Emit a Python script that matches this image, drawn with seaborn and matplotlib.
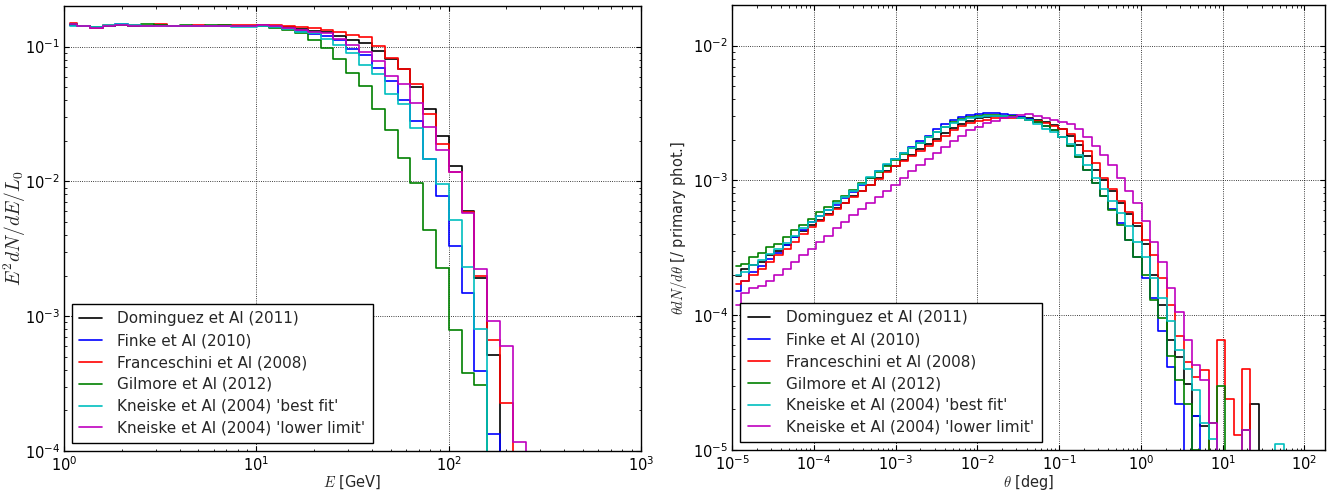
import numpy as np
import pandas as pd
import matplotlib
matplotlib.use("Agg")
import matplotlib.pyplot as plt
import seaborn as sns

# ---- data ----
models = ["Dominguez et Al (2011)", "Finke et Al (2010)", "Franceschini et Al (2008)",
          "Gilmore et Al (2012)", "Kneiske et Al (2004) 'best fit'", "Kneiske et Al (2004) 'lower limit'"]
colors = ["k", "b", "r", "g", "c", "m"]

# energy spectrum, 15 bins per decade from 1 GeV to 1 TeV
e_edges = np.logspace(0, 3, 46)
dom_e = [0.145, 0.142, 0.139, 0.143, 0.145, 0.143, 0.142, 0.145, 0.142, 0.143, 0.143, 0.142, 0.143, 0.143, 0.143,
         0.144, 0.142, 0.140, 0.136, 0.131, 0.1285, 0.120, 0.111, 0.107, 0.0929, 0.0814, 0.0679, 0.0504, 0.0346,
         0.0219, 0.0130, 0.00608, 0.00192, 5.2e-4, 0, 0, 0, 0, 0, 0, 0, 0, 0, 0, 0]
fin_e = [0.145, 0.141, 0.138, 0.143, 0.148, 0.144, 0.143, 0.144, 0.141, 0.142, 0.142, 0.143, 0.142, 0.141, 0.141,
         0.143, 0.140, 0.136, 0.131, 0.125, 0.120, 0.1114, 0.0966, 0.0863, 0.0698, 0.0556, 0.0402, 0.0280, 0.01456,
         0.00786, 0.0033, 0.00149, 3.95e-4, 1.34e-4, 0, 0, 0, 0, 0, 0, 0, 0, 0, 0, 0]
fra_e = [0.149, 0.142, 0.138, 0.144, 0.145, 0.144, 0.142, 0.146, 0.142, 0.143, 0.144, 0.143, 0.144, 0.145, 0.145,
         0.145, 0.144, 0.1424, 0.140, 0.1384, 0.133, 0.1285, 0.1213, 0.118, 0.1011, 0.0828, 0.0687, 0.0531, 0.0314,
         0.0191, 0.0118, 0.00594, 0.00198, 6.7e-4, 2.26e-4, 0, 0, 0, 0, 0, 0, 0, 0, 0, 0]
gil_e = [0.146, 0.143, 0.139, 0.142, 0.145, 0.143, 0.146, 0.144, 0.142, 0.144, 0.143, 0.144, 0.144, 0.142, 0.141,
         0.141, 0.137, 0.132, 0.1256, 0.1121, 0.0972, 0.0805, 0.0641, 0.0511, 0.0342, 0.0239, 0.0150, 0.00966,
         0.00439, 0.00228, 7.85e-4, 3.78e-4, 3.10e-4, 0, 0, 0, 0, 0, 0, 0, 0, 0, 0, 0, 0]
kbf_e = [0.143, 0.141, 0.139, 0.144, 0.146, 0.145, 0.143, 0.141, 0.143, 0.141, 0.143, 0.142, 0.142, 0.140, 0.139,
         0.142, 0.139, 0.134, 0.129, 0.1256, 0.1134, 0.1023, 0.0892, 0.0731, 0.0623, 0.0443, 0.0373, 0.0247,
         0.01456, 0.00949, 0.00515, 0.00232, 8.1e-4, 0, 0, 0, 0, 0, 0, 0, 0, 0, 0, 0, 0]
kll_e = [0.148, 0.141, 0.137, 0.142, 0.144, 0.142, 0.142, 0.143, 0.141, 0.142, 0.142, 0.143, 0.143, 0.143, 0.142,
         0.144, 0.141, 0.138, 0.133, 0.128, 0.1256, 0.1147, 0.1023, 0.0913, 0.0782, 0.0605, 0.0525, 0.0379, 0.0255,
         0.0170, 0.0118, 0.00583, 0.00224, 9.2e-4, 6.0e-4, 1.17e-4, 0, 0, 0, 0, 0, 0, 0, 0, 0]

# angular distribution, 71 log bins from 1e-5 to 180 deg
t_edges = np.logspace(-5, np.log10(180), 72)
dom_t = [1.95e-4, 2.2e-4, 2.35e-4, 2.5e-4, 2.8e-4, 3.0e-4, 3.3e-4, 3.8e-4, 4.2e-4, 4.7e-4,
         5.1e-4, 5.6e-4, 6.2e-4, 6.8e-4, 7.6e-4, 8.3e-4, 9.3e-4, 1.05e-3, 1.17e-3, 1.29e-3,
         1.41e-3, 1.55e-3, 1.7e-3, 1.86e-3, 2.04e-3, 2.24e-3, 2.45e-3, 2.63e-3, 2.75e-3, 2.88e-3,
         2.95e-3, 3.0e-3, 3.0e-3, 3.0e-3, 2.95e-3, 2.88e-3, 2.82e-3, 2.7e-3, 2.57e-3, 2.4e-3,
         2.14e-3, 1.82e-3, 1.51e-3, 1.2e-3, 1.0e-3, 8.3e-4, 6.8e-4, 5.6e-4, 4.6e-4, 3.4e-4,
         2.0e-4, 1.2e-4, 6.5e-5, 4.9e-5, 3.1e-5, 1.8e-5, 1.5e-5, 0, 0, 0,
         0, 0, 2.2e-5, 0, 0, 0, 0, 0, 0, 0, 0]
fin_t = [1.5e-4, 1.8e-4, 2.1e-4, 2.3e-4, 2.6e-4, 2.9e-4, 3.3e-4, 3.8e-4, 4.3e-4, 4.9e-4,
         5.4e-4, 6.0e-4, 6.6e-4, 7.4e-4, 8.2e-4, 9.3e-4, 1.05e-3, 1.17e-3, 1.3e-3, 1.45e-3,
         1.6e-3, 1.78e-3, 1.95e-3, 2.15e-3, 2.4e-3, 2.6e-3, 2.8e-3, 2.95e-3, 3.05e-3, 3.12e-3,
         3.15e-3, 3.15e-3, 3.12e-3, 3.05e-3, 2.95e-3, 2.85e-3, 2.7e-3, 2.55e-3, 2.35e-3, 2.1e-3,
         1.8e-3, 1.5e-3, 1.2e-3, 9.6e-4, 7.7e-4, 6.1e-4, 4.8e-4, 3.6e-4, 2.7e-4, 1.9e-4,
         1.35e-4, 7.6e-5, 4.1e-5, 2.2e-5, 0, 1.8e-5, 0, 0, 0, 0,
         0, 0, 0, 0, 0, 0, 0, 0, 0, 0, 0]
fra_t = [1.7e-4, 1.8e-4, 2.0e-4, 2.2e-4, 2.5e-4, 2.8e-4, 3.1e-4, 3.5e-4, 4.0e-4, 4.5e-4,
         5.0e-4, 5.5e-4, 6.1e-4, 6.8e-4, 7.5e-4, 8.3e-4, 9.3e-4, 1.03e-3, 1.15e-3, 1.27e-3,
         1.4e-3, 1.52e-3, 1.65e-3, 1.8e-3, 1.97e-3, 2.15e-3, 2.35e-3, 2.52e-3, 2.65e-3, 2.75e-3,
         2.82e-3, 2.88e-3, 2.9e-3, 2.9e-3, 2.88e-3, 2.82e-3, 2.75e-3, 2.65e-3, 2.55e-3, 2.4e-3,
         2.2e-3, 1.95e-3, 1.65e-3, 1.35e-3, 1.05e-3, 8.6e-4, 7.0e-4, 5.8e-4, 4.8e-4, 3.6e-4,
         2.8e-4, 1.9e-4, 1.2e-4, 7.0e-5, 4.5e-5, 3.5e-5, 3.9e-5, 0, 6.5e-5, 2.4e-5,
         1.3e-5, 4.0e-5, 0, 0, 0, 0, 0, 0, 0, 0, 0]
gil_t = [2.3e-4, 2.4e-4, 2.7e-4, 2.9e-4, 3.2e-4, 3.4e-4, 3.8e-4, 4.3e-4, 4.7e-4, 5.2e-4,
         5.8e-4, 6.4e-4, 7.0e-4, 7.7e-4, 8.5e-4, 9.5e-4, 1.05e-3, 1.15e-3, 1.28e-3, 1.42e-3,
         1.57e-3, 1.73e-3, 1.9e-3, 2.1e-3, 2.3e-3, 2.5e-3, 2.7e-3, 2.85e-3, 2.95e-3, 3.0e-3,
         3.05e-3, 3.05e-3, 3.02e-3, 2.98e-3, 2.9e-3, 2.8e-3, 2.7e-3, 2.55e-3, 2.35e-3, 2.1e-3,
         1.8e-3, 1.5e-3, 1.2e-3, 9.5e-4, 7.6e-4, 6.0e-4, 4.7e-4, 3.6e-4, 2.7e-4, 2.0e-4,
         1.3e-4, 9.5e-5, 5.0e-5, 3.3e-5, 2.2e-5, 1.0e-5, 0, 1.6e-5, 3.0e-5, 0,
         0, 1.4e-5, 0, 0, 0, 0, 0, 0, 0, 0, 0]
kbf_t = [2.0e-4, 2.1e-4, 2.35e-4, 2.55e-4, 2.85e-4, 3.1e-4, 3.45e-4, 3.9e-4, 4.4e-4, 4.9e-4,
         5.4e-4, 6.0e-4, 6.8e-4, 7.5e-4, 8.4e-4, 9.4e-4, 1.06e-3, 1.18e-3, 1.32e-3, 1.45e-3,
         1.6e-3, 1.75e-3, 1.9e-3, 2.1e-3, 2.3e-3, 2.5e-3, 2.65e-3, 2.8e-3, 2.9e-3, 2.95e-3,
         3.0e-3, 3.0e-3, 2.98e-3, 2.95e-3, 2.9e-3, 2.8e-3, 2.6e-3, 2.4e-3, 2.3e-3, 2.1e-3,
         1.85e-3, 1.55e-3, 1.3e-3, 1.05e-3, 8.6e-4, 7.0e-4, 5.7e-4, 4.6e-4, 3.5e-4, 2.7e-4,
         1.9e-4, 1.35e-4, 9.0e-5, 5.5e-5, 4.0e-5, 2.8e-5, 1.6e-5, 1.2e-5, 0, 0,
         0, 0, 0, 0, 0, 1.1e-5, 0, 0, 0, 0, 0]
kll_t = [1.2e-4, 1.45e-4, 1.6e-4, 1.65e-4, 1.8e-4, 2.0e-4, 2.2e-4, 2.5e-4, 2.8e-4, 3.1e-4,
         3.5e-4, 3.9e-4, 4.4e-4, 4.9e-4, 5.5e-4, 6.1e-4, 6.8e-4, 7.5e-4, 8.4e-4, 9.3e-4,
         1.05e-3, 1.17e-3, 1.3e-3, 1.45e-3, 1.6e-3, 1.77e-3, 1.95e-3, 2.15e-3, 2.35e-3, 2.5e-3,
         2.65e-3, 2.78e-3, 2.88e-3, 2.95e-3, 3.05e-3, 3.1e-3, 3.0e-3, 2.9e-3, 2.8e-3, 2.72e-3,
         2.6e-3, 2.4e-3, 2.1e-3, 1.8e-3, 1.55e-3, 1.3e-3, 1.05e-3, 8.3e-4, 6.8e-4, 5.0e-4,
         3.5e-4, 2.5e-4, 1.6e-4, 1.05e-4, 6.6e-5, 4.3e-5, 3.3e-5, 1.6e-5, 0, 0,
         0, 1.4e-5, 0, 0, 0, 0, 0, 0, 0, 0, 0]

spec_e = [dom_e, fin_e, fra_e, gil_e, kbf_e, kll_e]
spec_t = [dom_t, fin_t, fra_t, gil_t, kbf_t, kll_t]

# ---- style: old matplotlib look ----
sns.set_style("ticks")
plt.rcParams.update({
    "font.family": ["DejaVu Sans"],
    "mathtext.fontset": "cm",
    "axes.unicode_minus": False,
    "axes.edgecolor": "k",
    "axes.linewidth": 1.0,
    "xtick.direction": "in",
    "ytick.direction": "in",
    "xtick.top": True,
    "ytick.right": True,
    "xtick.major.size": 3.5,
    "ytick.major.size": 3.5,
    "xtick.minor.size": 1.8,
    "ytick.minor.size": 1.8,
    "xtick.major.pad": 3,
    "ytick.major.pad": 3,
    "xtick.color": "k",
    "ytick.color": "k",
    "xtick.labelsize": 10.5,
    "ytick.labelsize": 10.5,
    "axes.labelsize": 10.5,
    "legend.fontsize": 11,
    "legend.fancybox": False,
    "legend.edgecolor": "k",
    "legend.framealpha": 1,
    "legend.borderpad": 0.5,
    "legend.labelspacing": 0.45,
    "legend.handlelength": 1.5,
    "legend.handletextpad": 1.0,
    "legend.borderaxespad": 0.5,
})

fig = plt.figure(figsize=(13.38, 4.94), dpi=100)
ax1 = fig.add_axes([0.0478, 0.087, 0.4312, 0.9008])
ax2 = fig.add_axes([0.5473, 0.089, 0.4432, 0.9008])


def draw(ax, edges, series):
    centers = np.sqrt(edges[:-1] * edges[1:])
    for name, col, vals in zip(models, colors, series):
        sns.lineplot(x=centers, y=vals, ax=ax, color=col, label=name, lw=1.2,
                     drawstyle="steps-mid", estimator=None, sort=True)
    ax.set_xscale("log")
    ax.set_yscale("log", nonpositive="clip")
    ax.grid(True, which="major", color="k", linestyle=":", linewidth=0.6)
    ax.grid(False, which="minor")
    ax.legend(loc="lower left")


draw(ax1, e_edges, spec_e)
ax1.set_xlim(1, 1e3)
ax1.set_ylim(1e-4, 0.2)
ax1.set_xlabel(r"$E$ [GeV]", labelpad=0)
ax1.set_ylabel(r"$E^2dN/dE/L_0$", fontsize=14)
ax1.yaxis.set_label_coords(-0.062, 0.5)

draw(ax2, t_edges, spec_t)
ax2.set_xlim(1e-5, 180)
ax2.set_ylim(1e-5, 2e-2)
ax2.set_xlabel(r"$\theta$ [deg]", labelpad=0)
ax2.set_ylabel(r"$\theta dN/d\theta$ [/ primary phot.]", labelpad=3)

fig.savefig("out.png", dpi=100, facecolor="white")
